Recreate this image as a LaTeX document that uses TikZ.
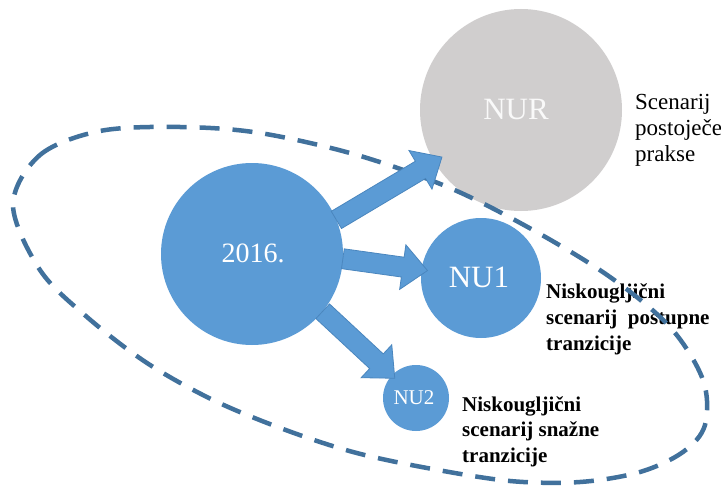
\documentclass[tikz,border=0pt]{standalone}
\usepackage{fontspec}
\setmainfont{Liberation Serif}
\usetikzlibrary{calc}
\definecolor{cblue}{HTML}{5B9BD5}
\definecolor{cedge}{HTML}{4A86BE}
\definecolor{cgray}{HTML}{D0CECE}
\definecolor{cdash}{HTML}{41719C}
\newcommand{\fatarrow}[2]{%
  \coordinate (fabase) at ($(#2)!25pt!(#1)$);
  \filldraw[fatarrowstyle]
    ($(#1)!10pt!90:(#2)$) -- ($(fabase)!10pt!90:(#2)$) -- ($(fabase)!22.5pt!90:(#2)$)
    -- (#2) -- ($(fabase)!22.5pt!-90:(#2)$) -- ($(fabase)!10pt!-90:(#2)$)
    -- ($(#1)!10pt!-90:(#2)$) -- cycle;
}
\begin{document}
\begin{tikzpicture}[x=1pt,y=-1pt,
  bubble/.style={circle, inner sep=0pt, outer sep=0pt, text=white},
  fatarrowstyle/.style={fill=cblue, draw=cedge, line width=0.8pt, line join=miter},
  lbl/.style={align=left, inner sep=0pt, anchor=north west},
  ring/.style={draw=cdash, line width=4.5pt, dash pattern=on 20pt off 13pt}]
\useasboundingbox (0,0) rectangle (721,487);
\fill[white] (0,0) rectangle (721,487);
% circles
\node[bubble, fill=cgray, minimum size=202pt] (nur) at (521,110) {};
\node[bubble, fill=cblue, minimum size=182pt] (c2016) at (252,254) {};
\node[bubble, fill=cblue, minimum size=120pt] (nu1) at (481,278) {};
\node[bubble, fill=cblue, minimum size=66pt] (nu2) at (416,398) {};
% circle texts
\node[text=white!95!gray, inner sep=0pt, font=\fontsize{31}{33}\selectfont] (tnur) at (516,110) {NUR};
\node[text=white, inner sep=0pt, font=\fontsize{28}{30}\selectfont] (t2016) at (253,253) {2016.};
\node[text=white, inner sep=0pt, font=\fontsize{31}{33}\selectfont] (tnu1) at (479,277) {NU1};
\node[text=white, inner sep=0pt, font=\fontsize{21}{23}\selectfont] (tnu2) at (414,398) {NU2};
% labels
\node[lbl, font=\fontsize{23}{26}\selectfont] (lnur) at (635,94) {Scenarij\\postoječe\\prakse};
\node[lbl, font=\fontsize{21}{26}\selectfont\bfseries] (lnu1) at (546,283) {Niskougljični\\scenarij\ \ postupne\\tranzicije};
\node[lbl, font=\fontsize{21}{25.5}\selectfont\bfseries] (lnu2) at (462,396) {Niskougljični\\scenarij snažne\\tranzicije};
% dashed ring
\draw[ring] plot[smooth cycle, tension=0.55] coordinates {
  (13,205) (40,155) (100,131) (180,127) (260,133) (357,155) (450,188)
  (533,230) (610,277) (670,327) (703,380) (705,425) (683,452) (640,472)
  (580,482) (510,481) (427,468) (353,452) (283,429) (213,400) (147,363)
  (87,317) (40,270)};
% arrows
\coordinate (s1) at (c2016.22);
\coordinate (e1) at ($(nur.center)!92pt!(s1)$);
\coordinate (s2) at (c2016.-3);
\coordinate (e2) at ($(nu1.center)!54pt!(s2)$);
\coordinate (s3) at (c2016.-39);
\coordinate (e3) at ($(nu2.center)!29pt!(s3)$);
\fatarrow{s1}{e1}
\fatarrow{s2}{e2}
\fatarrow{s3}{e3}
\end{tikzpicture}
\end{document}
